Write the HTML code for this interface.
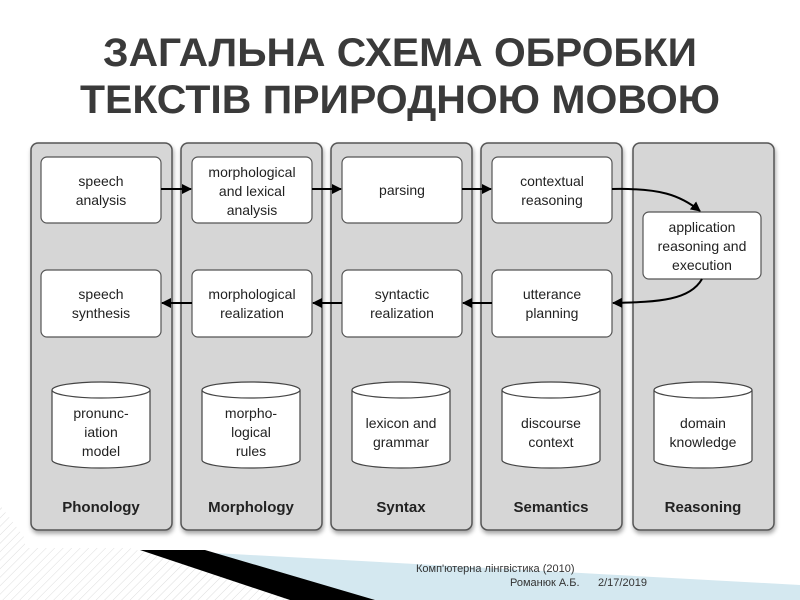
<!DOCTYPE html>
<html><head><meta charset="utf-8"><style>
html,body{margin:0;padding:0;background:#fff;width:800px;height:600px;overflow:hidden}
svg{display:block}
</style></head><body>
<svg width="800" height="600" viewBox="0 0 800 600" font-family="Liberation Sans, Noto Sans CJK SC, sans-serif">
<defs>
<pattern id="h" width="6" height="6" patternUnits="userSpaceOnUse" patternTransform="rotate(45)">
<rect width="6" height="6" fill="#fff"/><line x1="0" y1="0" x2="0" y2="6" stroke="#ddd" stroke-width="1"/></pattern>
<marker id="a" markerWidth="10" markerHeight="10" refX="9" refY="5" orient="auto" markerUnits="userSpaceOnUse"><path d="M0,0 L10,5 L0,10 z" fill="#000"/></marker>
<filter id="s" x="-10%" y="-10%" width="130%" height="130%"><feDropShadow dx="1" dy="3" stdDeviation="2" flood-color="#000" flood-opacity="0.35"/></filter>
</defs>
<!-- bottom decoration -->
<polygon points="0,505 0,600 300,600 120,545 30,545" fill="url(#h)"/>
<polygon points="160,550 800,585 800,600 370,600" fill="#d4e8f0"/>
<polygon points="140,550 205,550 375,600 290,600" fill="#000"/>
<rect x="25" y="140" width="760" height="408" fill="#fff"/>
<!-- title -->
<g font-weight="bold" font-size="40" fill="#3a3a3a" text-anchor="middle">
<text x="400" y="66" textLength="594" lengthAdjust="spacingAndGlyphs">ЗАГАЛЬНА СХЕМА ОБРОБКИ</text>
<text x="400" y="113" textLength="640" lengthAdjust="spacingAndGlyphs">ТЕКСТІВ ПРИРОДНОЮ МОВОЮ</text>
</g>
<!-- columns -->
<g fill="#d6d6d6" stroke="#555" stroke-width="1.5" filter="url(#s)">
<rect x="31" y="143" width="141" height="387" rx="7"/>
<rect x="181" y="143" width="141" height="387" rx="7"/>
<rect x="331" y="143" width="141" height="387" rx="7"/>
<rect x="481" y="143" width="141" height="387" rx="7"/>
<rect x="633" y="143" width="141" height="387" rx="7"/>
</g>
<!-- boxes -->
<g fill="#fff" stroke="#555" stroke-width="1.2">
<rect x="41" y="157" width="120" height="66" rx="6"/>
<rect x="192" y="157" width="120" height="66" rx="6"/>
<rect x="342" y="157" width="120" height="66" rx="6"/>
<rect x="492" y="157" width="120" height="66" rx="6"/>
<rect x="41" y="270" width="120" height="67" rx="6"/>
<rect x="192" y="270" width="120" height="67" rx="6"/>
<rect x="342" y="270" width="120" height="67" rx="6"/>
<rect x="492" y="270" width="120" height="67" rx="6"/>
<rect x="643" y="212" width="118" height="67" rx="6"/>
</g>
<!-- cylinders -->
<g fill="#fff" stroke="#444" stroke-width="1.2">
<g id="c"><path d="M52,390 V460 A49,8 0 0 0 150,460 V390"/><ellipse cx="101" cy="390" rx="49" ry="8"/></g>
<use href="#c" x="150"/><use href="#c" x="300"/><use href="#c" x="450"/><use href="#c" x="602"/>
</g>
<!-- arrows -->
<g stroke="#000" stroke-width="2" fill="none">
<line x1="161" y1="189" x2="191" y2="189" marker-end="url(#a)"/>
<line x1="312" y1="189" x2="341" y2="189" marker-end="url(#a)"/>
<line x1="462" y1="189" x2="491" y2="189" marker-end="url(#a)"/>
<line x1="192" y1="303" x2="162" y2="303" marker-end="url(#a)"/>
<line x1="342" y1="303" x2="313" y2="303" marker-end="url(#a)"/>
<line x1="492" y1="303" x2="463" y2="303" marker-end="url(#a)"/>
<path d="M612,189 C660,188 680,195 700,211" marker-end="url(#a)"/>
<path d="M702,279 C690,300 660,302 613,303" marker-end="url(#a)"/>
</g>
<!-- text -->
<g font-size="14" fill="#222" text-anchor="middle">
<text x="101" y="186">speech</text><text x="101" y="205">analysis</text>
<text x="252" y="177">morphological</text><text x="252" y="196">and lexical</text><text x="252" y="215">analysis</text>
<text x="402" y="195">parsing</text>
<text x="552" y="186">contextual</text><text x="552" y="205">reasoning</text>
<text x="702" y="232">application</text><text x="702" y="251">reasoning and</text><text x="702" y="270">execution</text>
<text x="101" y="299">speech</text><text x="101" y="318">synthesis</text>
<text x="252" y="299">morphological</text><text x="252" y="318">realization</text>
<text x="402" y="299">syntactic</text><text x="402" y="318">realization</text>
<text x="552" y="299">utterance</text><text x="552" y="318">planning</text>
<text x="101" y="418">pronunc-</text><text x="101" y="437">iation</text><text x="101" y="456">model</text>
<text x="251" y="418">morpho-</text><text x="251" y="437">logical</text><text x="251" y="456">rules</text>
<text x="401" y="428">lexicon and</text><text x="401" y="447">grammar</text>
<text x="551" y="428">discourse</text><text x="551" y="447">context</text>
<text x="703" y="428">domain</text><text x="703" y="447">knowledge</text>
</g>
<g font-size="15" font-weight="bold" fill="#222" text-anchor="middle">
<text x="101" y="512">Phonology</text>
<text x="251" y="512">Morphology</text>
<text x="401" y="512">Syntax</text>
<text x="551" y="512">Semantics</text>
<text x="703" y="512">Reasoning</text>
</g>
<g font-size="11" fill="#333">
<text x="416" y="572">Комп'ютерна лінгвістика (2010)</text>
<text x="510" y="586">Романюк А.Б.</text>
<text x="598" y="586">2/17/2019</text>
</g>
</svg>
</body></html>
